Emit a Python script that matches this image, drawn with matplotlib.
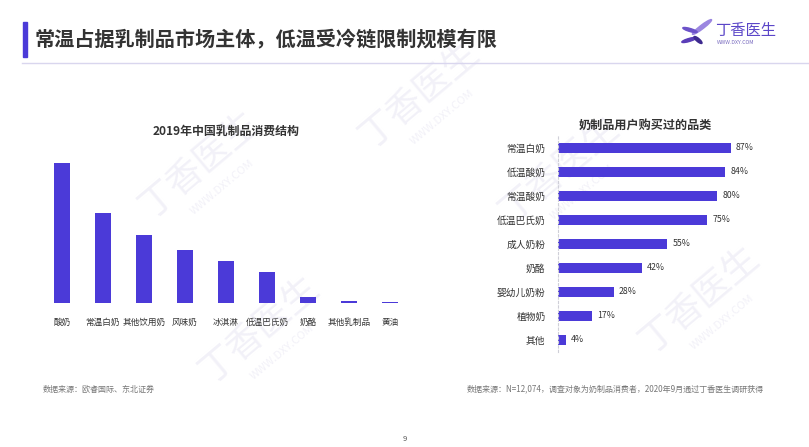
import matplotlib
matplotlib.use('Agg')
from matplotlib import pyplot as plt
from matplotlib.patches import Ellipse, Rectangle

plt.rcParams['font.family'] = ['Noto Sans CJK SC', 'DejaVu Sans']

BAR_COLOR = '#4b3ad8'
TEXT_COLOR = '#333333'

# left chart: 2019 consumption structure (relative share)
left_categories = ['酸奶', '常温白奶', '其他饮用奶', '风味奶', '冰淇淋', '低温巴氏奶', '奶酪', '其他乳制品', '黄油']
left_values = [31.0, 19.9, 15.1, 11.7, 9.3, 6.9, 1.3, 0.5, 0.2]

# right chart: categories bought by dairy users
right_categories = ['常温白奶', '低温酸奶', '常温酸奶', '低温巴氏奶', '成人奶粉', '奶酪', '婴幼儿奶粉', '植物奶', '其他']
right_values = [87, 84, 80, 75, 55, 42, 28, 17, 4]

W, H = 809, 447
fig = plt.figure(figsize=(W / 100, H / 100), dpi=100)
fig.patch.set_facecolor('white')


def px(x, y):
    return x / W, 1 - y / H


def box(x0, y0, x1, y1):
    # pixel box (top-left, bottom-right) -> figure rect
    return [x0 / W, 1 - y1 / H, (x1 - x0) / W, (y1 - y0) / H]


# faint watermarks
WM = '#f2f1f8'
for (x, y) in [(200, 165), (420, 95), (260, 330), (700, 300), (560, 170)]:
    fig.text(*px(x, y), '丁香医生', fontsize=26, color=WM, rotation=40,
             ha='center', va='center', zorder=-5)
    fig.text(*px(x + 22, y + 22), 'WWW.DXY.COM', fontsize=8, color=WM, rotation=40,
             ha='center', va='center', zorder=-5)

# header
fig.patches.append(Rectangle(px(23, 57), 4 / W, 35 / H, transform=fig.transFigure,
                             color=BAR_COLOR, zorder=2))
fig.lines.append(plt.Line2D([22 / W, 1.0], [1 - 63 / H] * 2, transform=fig.transFigure,
                            color='#d9d6ee', lw=1))
fig.text(*px(35, 40), '常温占据乳制品市场主体，低温受冷链限制规模有限', fontsize=14.5,
         fontweight='bold', color=TEXT_COLOR, ha='left', va='center')

# logo (small butterfly-like leaves)
for (cx, cy, w, h, a, c) in [(702, 27, 5, 18, -35, '#9b86e0'), (690, 30, 5, 9, 60, '#6c52c9'),
                             (689, 40, 5, 9, -60, '#5a3db8'), (698, 40, 4, 8, 30, '#3e2a8f')]:
    fig.patches.append(Ellipse(px(cx, cy), w / W, h / H, angle=a, transform=fig.transFigure,
                               color=c, zorder=2))
fig.text(*px(715, 31), '丁香医生', fontsize=11, color='#5b46c8', ha='left', va='center')
fig.text(*px(717, 43), 'WWW.DXY.COM', fontsize=3.8, color='#7a6cc0', ha='left', va='center')

# left chart
ax1 = fig.add_axes(box(41.5, 163, 410.5, 303))
ax1.set_facecolor('none')
x = range(len(left_categories))
ax1.bar(x, left_values, width=0.41, color=BAR_COLOR)
ax1.set_xlim(-0.5, len(left_categories) - 0.5)
ax1.set_ylim(0, max(left_values))
ax1.set_xticks([])
ax1.set_yticks([])
for i, name in enumerate(left_categories):
    ax1.text(i, -19 / 140, name, fontsize=6.2, color=TEXT_COLOR, ha='center', va='center',
             transform=ax1.get_xaxis_transform())
for s in ax1.spines.values():
    s.set_visible(False)
fig.text(*px(226, 131), '2019年中国乳制品消费结构', fontsize=8.6, fontweight='bold',
         color=TEXT_COLOR, ha='center', va='center')

# right chart
ax2 = fig.add_axes(box(558, 136, 757, 352))
ax2.set_facecolor('none')
y = range(len(right_categories))
ax2.barh(y, right_values, height=0.42, color=BAR_COLOR)
ax2.set_xlim(0, 100)
ax2.set_ylim(len(right_categories) - 0.5, -0.5)
ax2.set_yticks(list(y))
ax2.set_yticklabels(right_categories, fontsize=7, color=TEXT_COLOR)
ax2.tick_params(axis='y', length=0, pad=9)
ax2.set_xticks([])
for k, s in ax2.spines.items():
    s.set_visible(k == 'left')
ax2.spines['left'].set_color('#cfcfd8')
ax2.spines['left'].set_linestyle((0, (2, 2)))
ax2.spines['left'].set_linewidth(0.8)
for i, v in enumerate(right_values):
    ax2.text(v + 2.5, i, '{}%'.format(v), fontsize=6.3, color=TEXT_COLOR, va='center', ha='left')
fig.text(*px(645, 125), '奶制品用户购买过的品类', fontsize=8.7, fontweight='bold',
         color=TEXT_COLOR, ha='center', va='center')

# footnotes
fig.text(*px(43, 389), '数据来源：欧睿国际、东北证券', fontsize=5.8, color='#777777',
         ha='left', va='center')
fig.text(*px(467, 389), '数据来源：N=12,074，调查对象为奶制品消费者，2020年9月通过丁香医生调研获得',
         fontsize=5.8, color='#777777', ha='left', va='center')
fig.text(*px(405, 439), '9', fontsize=5.5, color='#555555', ha='center', va='center')

fig.savefig('out.png', dpi=100, facecolor='white')
